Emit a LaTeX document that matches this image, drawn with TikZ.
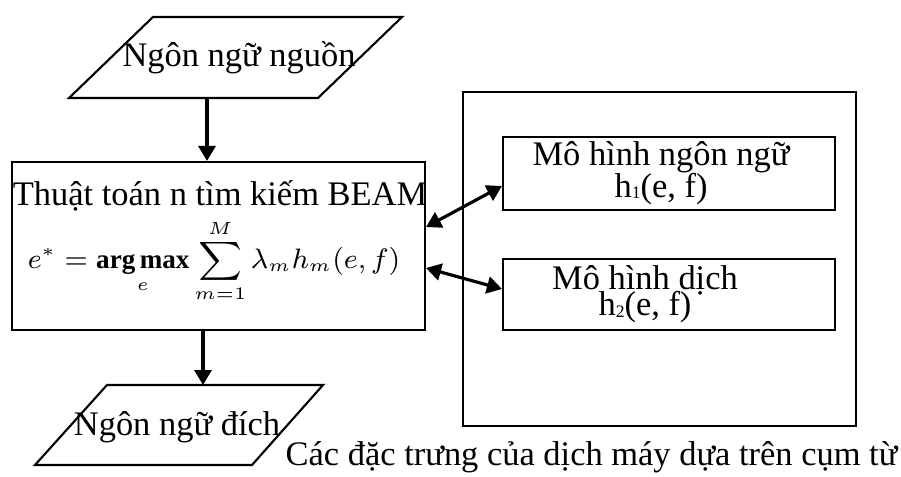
\documentclass[tikz,border=0pt]{standalone}
\usepackage{fontspec}
\setmainfont{Liberation Serif}
\usepackage{amsmath}
\usetikzlibrary{arrows.meta}

\newcommand{\smallidx}[1]{\raisebox{-0.3pt}{\fontsize{5}{5}\selectfont #1}}

\tikzset{
  box/.style={draw, line width=0.6pt, rectangle, inner sep=0pt},
  io/.style={line width=0.6pt, line join=miter},
  flow/.style={line width=0.9pt, -{Triangle[length=1.5mm,width=1.7mm]}},
  link/.style={line width=0.9pt, {Triangle[length=1.5mm,width=1.7mm]}-{Triangle[length=1.5mm,width=1.7mm]}},
}

\begin{document}
\begin{tikzpicture}[font=\fontsize{9.8}{9.1}\selectfont]
		\useasboundingbox (0,0) rectangle (9.01,4.76);
		%source language
		\draw[io] (0.69,3.78) -- (3.18,3.78) -- (4.02,4.59) -- (1.53,4.59) -- cycle;
		\coordinate (srcfoot) at (2.07,3.78);
		\node (src) at (2.39,4.18) {Ngôn ngữ nguồn};
		%beam search
		\node[box, minimum width=4.13cm, minimum height=1.68cm] (beam) at (2.185,2.30) {};
		\node (title) at (2.20,2.80) {Thuật toán n tìm kiếm BEAM};
		\node[font=\fontsize{7.7}{9}\selectfont] (score) at (2.14,2.15) {$\displaystyle e^{*}=\mathop{\textbf{arg\,max}}\limits_{e}\sum_{m=1}^{M}\lambda_m h_m(e,f)$};
		%target language
		\draw[io] (0.35,0.11) -- (2.52,0.11) -- (3.23,0.91) -- (1.07,0.91) -- cycle;
		\coordinate (dsthead) at (2.03,0.91);
		\node (dst) at (1.77,0.49) {Ngôn ngữ đích};
		%feature models
		\node[box, minimum width=3.93cm, minimum height=3.34cm] (feat) at (6.595,2.17) {};
		\node[box, minimum width=3.32cm, minimum height=0.73cm, label={[align=center, xshift=-0.8mm]center:Mô hình ngôn ngữ\\h\smallidx{1}(e, f)}] (lm) at (6.69,3.025) {};
		\node[box, minimum width=3.32cm, minimum height=0.71cm, label={[align=center, xshift=-2.4mm]center:Mô hình dịch\\[-1.6pt]h\smallidx{2}(e, f)}] (tm) at (6.69,1.815) {};
		
		%flow
		\draw[flow] (srcfoot) -- (srcfoot |- beam.north);
		\draw[flow] (dsthead |- beam.south) -- (dsthead);
		\draw[link] ([yshift=1.9mm]beam.east) -- ([yshift=-1.25mm]lm.west);
		\draw[link] ([yshift=-2.2mm]beam.east) -- ([yshift=0.55mm]tm.west);
		
		%caption
		\node[anchor=base west, inner sep=0pt] (caption) at (2.85,0.11) {Các đặc trưng của dịch máy dựa trên cụm từ};
	\end{tikzpicture}
\end{document}
